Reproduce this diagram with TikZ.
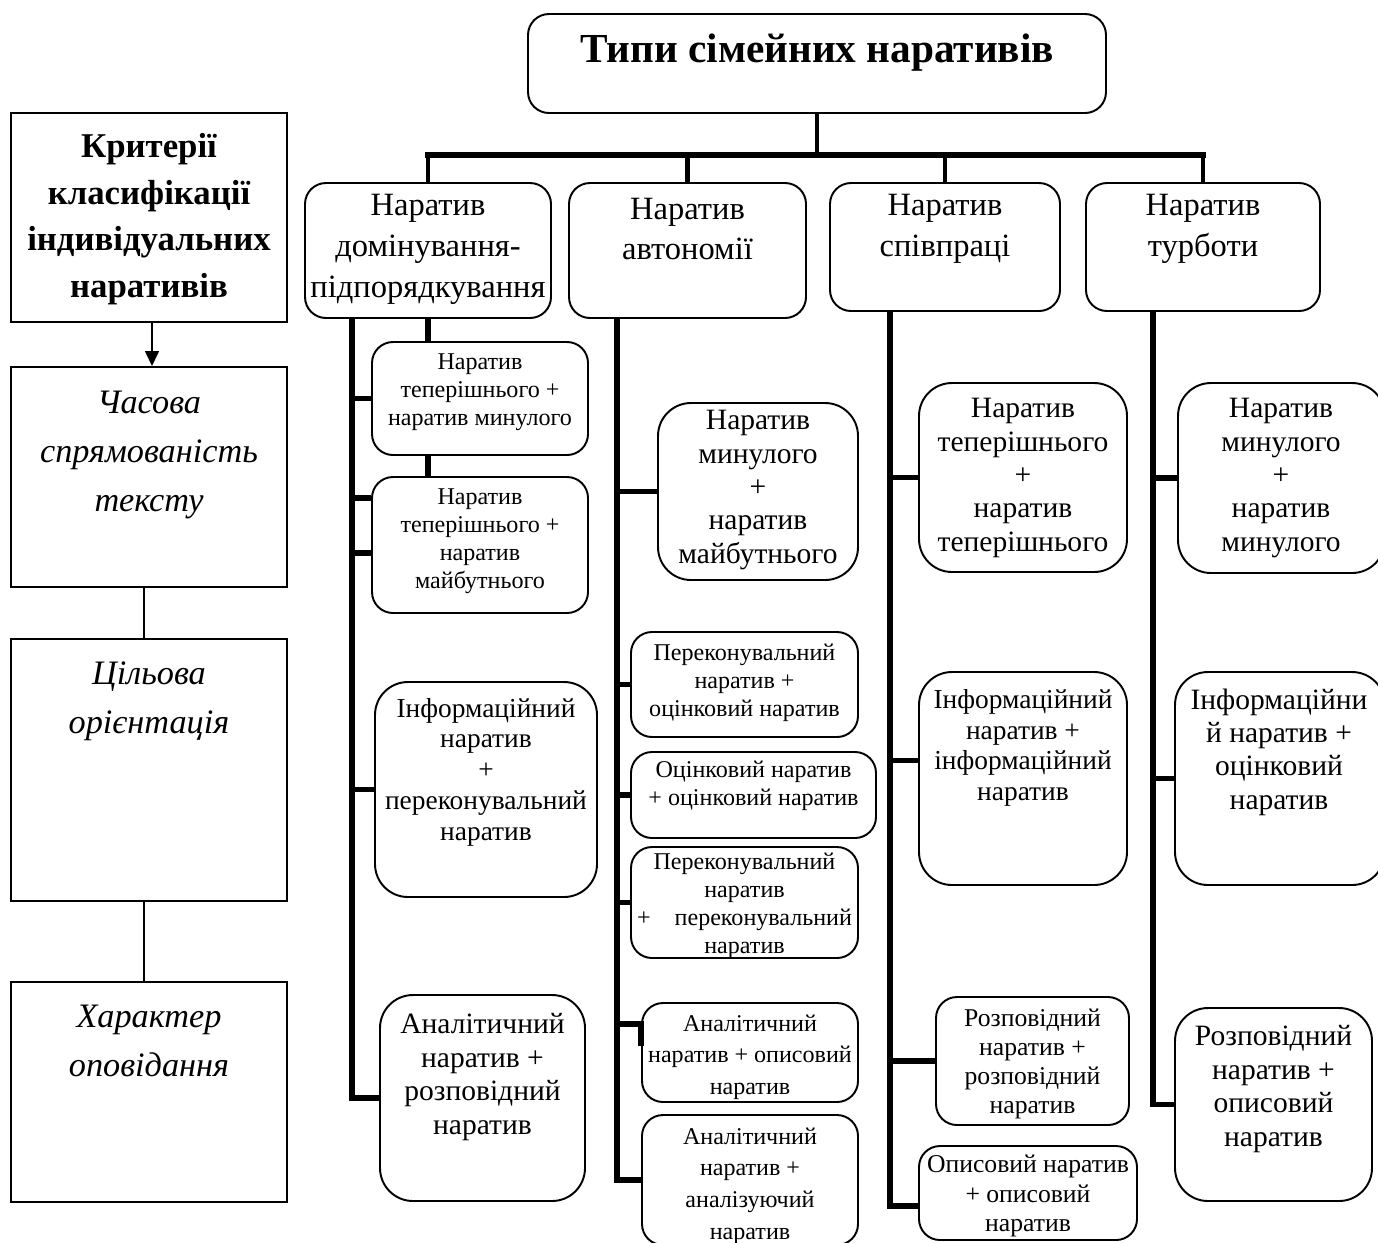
\documentclass[tikz,border=0pt]{standalone}
\usepackage{fontspec}
\setmainfont{Liberation Serif}
\usetikzlibrary{positioning,arrows.meta,calc}

\begin{document}
\begin{tikzpicture}[x=0.02cm, y=-0.02cm,
    crit/.style={draw, line width=1.1pt, inner sep=0pt},
    rbox/.style={draw, line width=1.1pt, rounded corners=0.42cm, inner sep=0pt},
    rbig/.style={rbox, rounded corners=0.66cm},
    sz/.style 2 args={minimum width=#1*0.02cm, minimum height=#2*0.02cm},
    conn/.style={line width=3.3pt},
    drop/.style={line width=2.6pt},
    thin/.style={line width=0.8pt},
    ttl/.style={font=\bfseries\fontsize{23.5}{28}\selectfont},
    kb/.style={font=\bfseries\fontsize{19.8}{26.5}\selectfont, align=center},
    ki/.style={font=\itshape\fontsize{19.5}{28}\selectfont, align=center},
    lvl/.style={font=\fontsize{18.5}{23.3}\selectfont, align=center},
    med/.style={font=\fontsize{16.8}{19}\selectfont, align=center},
    mid/.style={font=\fontsize{15.6}{17.5}\selectfont, align=center},
    sml/.style={font=\fontsize{14.6}{16.6}\selectfont, align=center},
    tiny/.style={font=\fontsize{13.7}{16}\selectfont, align=center},
    tinyw/.style={font=\fontsize{13.7}{18}\selectfont, align=center}
]
\useasboundingbox (0,0) rectangle (1378,1242);
\clip (0,0) rectangle (1378,1242);

% Left column - criteria
\node[crit, sz={276}{209}] (k0) at (149,217.5) {};
\node[kb] (k0-t) at (149,219) {Критерії\\ класифікації\\ індивідуальних\\ наративів};
\node[crit, sz={276}{220}] (k1) at (149,477) {};
\node[ki] (k1-t) at (149,455) {Часова\\ спрямованість\\ тексту};
\node[crit, sz={276}{262}] (k2) at (149,770) {};
\node[ki] (k2-t) at (149,701) {Цільова\\ орієнтація};
\node[crit, sz={276}{220}] (k3) at (149,1092) {};
\node[ki] (k3-t) at (149,1041) {Характер\\ оповідання};

\draw[thin, -{Triangle[length=0.3cm, width=0.28cm]}] ([xshift=0.06cm]k0.south) -- ([xshift=0.06cm]k1.north);
\draw[thin] ([xshift=-0.1cm]k1.south) -- ([xshift=-0.1cm]k2.north);
\draw[thin] ([xshift=-0.1cm]k2.south) -- ([xshift=-0.1cm]k3.north);

% Title
\node[rbox, sz={578}{99}] (title) at (817,63.5) {};
\node[ttl] (title-t) at (817,53) {Типи сімейних наративів};

% Level 2 - narrative types
\node[rbox, sz={246}{135}] (b1) at (428,250.5) {};
\node[lvl] (b1-t) at (428,249) {Наратив\\ домінування-\\ підпорядкування};
\node[rbox, sz={237}{135}] (b2) at (687.5,250.5) {};
\node[lvl] (b2-t) at (687.5,229) {Наратив\\ автономії};
\node[rbox, sz={230}{128}] (b3) at (945,247) {};
\node[lvl] (b3-t) at (945,229) {Наратив\\ співпраці};
\node[rbox, sz={234}{128}] (b4) at (1203,247) {};
\node[lvl] (b4-t) at (1203,229) {Наратив\\ турботи};

\coordinate (bar) at (817,155);
\draw[drop] (title.south) -- (bar);
\draw[conn, line cap=rect] (b1.north |- bar) -- (b4.north |- bar);
\foreach \b in {b1,b2,b3,b4}
    \draw[drop] (\b.north |- bar) -- (\b.north);

% Column 1
\node[rbox, sz={216}{113}] (c1a) at (480,398.5) {};
\node[tiny] (c1a-t) at (480,392) {Наратив\\ теперішнього +\\ наратив минулого};
\node[rbox, sz={216}{136}] (c1b) at (480,545) {};
\node[tiny] (c1b-t) at (480,541) {Наратив\\ теперішнього +\\ наратив\\ майбутнього};
\node[rbig, sz={222}{215}] (c1c) at (486,789.5) {};
\node[mid] (c1c-t) at (486,772) {Інформаційний\\ наратив\\ +\\ переконувальний\\ наратив};
\node[rbig, sz={205}{206}] (c1d) at (482.5,1098) {};
\node[med] (c1d-t) at (482.5,1077) {Аналітичний\\ наратив +\\ розповідний\\ наратив};

\coordinate (t1) at (352,318);
\coordinate (c1b-u) at ($(c1b.north west)+(0,22)$);
\coordinate (c1b-l) at ($(c1b.west)+(0,8)$);
\draw[conn] (t1) |- (c1d.west);
\draw[conn] (t1 |- c1a.west) -- (c1a.west);
\draw[conn] (t1 |- c1b-u) -- (c1b-u);
\draw[conn] (t1 |- c1b-l) -- (c1b-l);
\draw[conn] (t1 |- c1c.west) -- (c1c.west);
\draw[conn] (b1.south) -- (b1.south |- c1a.north);
\draw[conn] (c1a.south -| b1.south) -- (c1b.north -| b1.south);

% Column 2
\node[rbig, sz={200}{177}] (c2a) at (758,491.5) {};
\node[med] (c2a-t) at (758,490) {Наратив\\ минулого\\ +\\ наратив\\ майбутнього};
\node[rbox, sz={227}{105}] (c2b) at (744.5,684.5) {};
\node[tiny] (c2b-t) at (744.5,683) {Переконувальний\\ наратив +\\ оцінковий наратив};
\node[rbox, sz={245}{86}] (c2c) at (753.5,795) {};
\node[tiny] (c2c-t) at (753.5,786) {Оцінковий наратив\\ + оцінковий наратив};
\node[rbox, sz={227}{111}] (c2d) at (744.5,902.5) {};
\node[tiny] (c2d-t) at (744.5,906) {Переконувальний\\ наратив\\ +\quad переконувальний\\ наратив};
\node[rbox, sz={216}{99}] (c2e) at (750,1052.5) {};
\node[tinyw] (c2e-t) at (750,1057) {Аналітичний\\ наратив + описовий\\ наратив};
\node[rbox, sz={216}{130}] (c2f) at (750,1180) {};
\node[tinyw] (c2f-t) at (750,1186) {Аналітичний\\ наратив +\\ аналізуючий\\ наратив};

\coordinate (t2) at (617,318);
\coordinate (c2e-u) at ($(c2e.north west)+(0,22)$);
\draw[conn] (t2) |- (c2f.west);
\foreach \c in {c2a,c2b,c2c,c2d}
    \draw[conn] (t2 |- \c.west) -- (\c.west);
\draw[conn] (t2 |- c2e-u) -- (c2e-u) -- ++(0,22);

% Column 3
\node[rbig, sz={208}{189}] (c3a) at (1023,477.5) {};
\node[med] (c3a-t) at (1023,478) {Наратив\\ теперішнього\\ +\\ наратив\\ теперішнього};
\node[rbig, sz={208}{213}] (c3b) at (1023,778.5) {};
\node[mid] (c3b-t) at (1023,748) {Інформаційний\\ наратив +\\ інформаційний\\ наратив};
\node[rbox, sz={193}{128}] (c3c) at (1032.5,1061) {};
\node[sml] (c3c-t) at (1032.5,1064) {Розповідний\\ наратив +\\ розповідний\\ наратив};
\node[rbox, sz={218}{94}] (c3d) at (1028,1193) {};
\node[sml] (c3d-t) at (1028,1196) {Описовий наратив\\ + описовий\\ наратив};

\coordinate (t3) at (890,311);
\coordinate (c3b-u) at ($(c3b.west)+(0,-18)$);
\coordinate (c3d-l) at ($(c3d.west)+(0,13)$);
\draw[conn] (t3) |- (c3d-l);
\draw[conn] (t3 |- c3a.west) -- (c3a.west);
\draw[conn] (t3 |- c3b-u) -- (c3b-u);
\draw[conn] (t3 |- c3c.west) -- (c3c.west);

% Column 4
\node[rbig, sz={207}{190}] (c4a) at (1281.5,478) {};
\node[med] (c4a-t) at (1281,478) {Наратив\\ минулого\\ +\\ наратив\\ минулого};
\node[rbig, sz={210}{213}] (c4b) at (1280,778.5) {};
\node[med] (c4b-t) at (1279,752) {Інформаційни\\ й наратив +\\ оцінковий\\ наратив};
\node[rbig, sz={197}{193}] (c4c) at (1273.5,1104.5) {};
\node[med] (c4c-t) at (1273.5,1089) {Розповідний\\ наратив +\\ описовий\\ наратив};

\coordinate (t4) at (1153,311);
\draw[conn] (t4) |- (c4c.west);
\draw[conn] (t4 |- c4a.west) -- (c4a.west);
\draw[conn] (t4 |- c4b.west) -- (c4b.west);

\end{tikzpicture}
\end{document}
